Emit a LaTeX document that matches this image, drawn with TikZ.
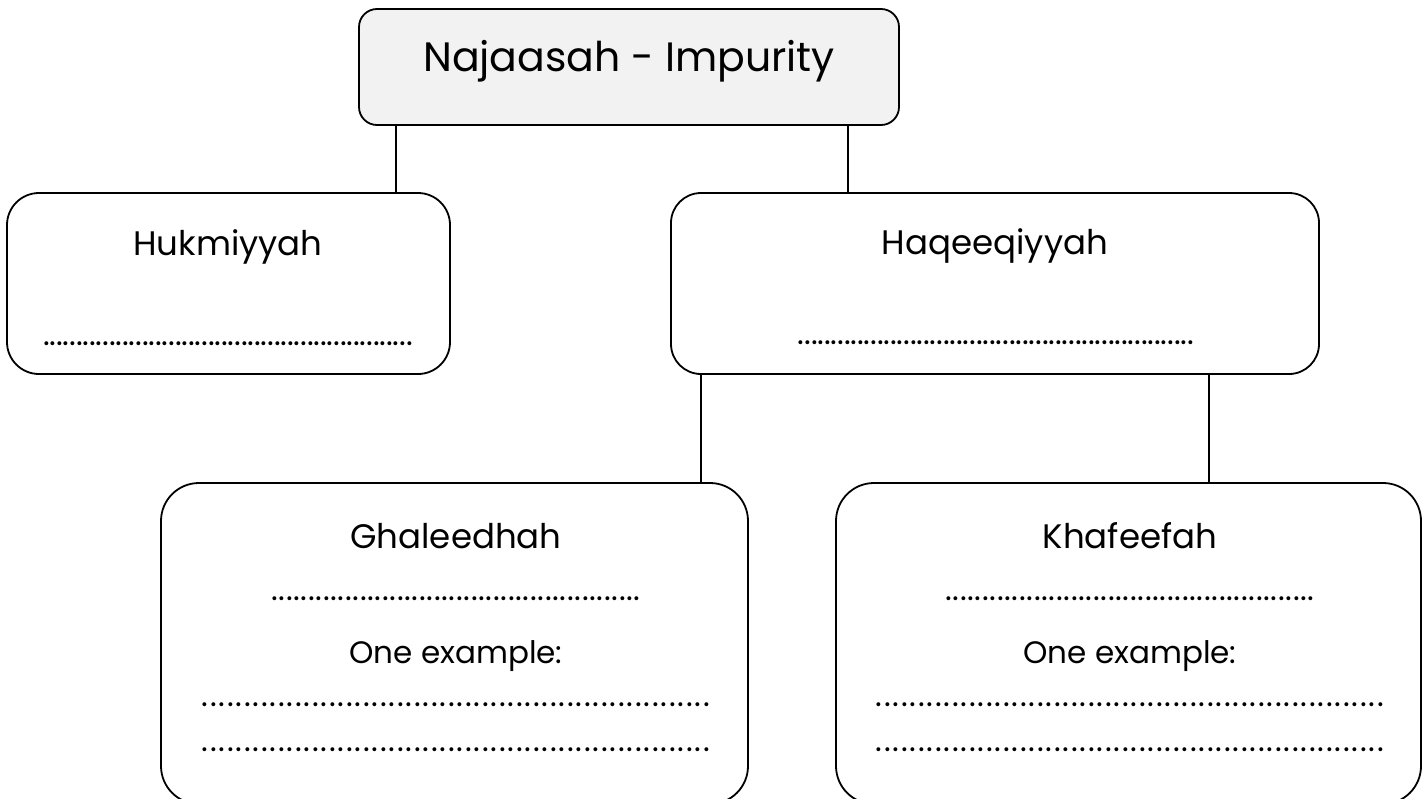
\documentclass[tikz,border=0pt]{standalone}
\usepackage{fontspec}
\setmainfont{Poppins}
\definecolor{topgray}{HTML}{F2F2F2}
\tikzset{
  box/.style={draw, line width=1.8pt, inner sep=0pt},
  lbl/.style={font=\fontsize{34}{40}\selectfont, anchor=base, inner sep=0pt},
  conn/.style={line width=1.8pt},
  dotlbl/.style={anchor=base, inner sep=0pt},
}
\newcommand{\dotrow}[2]{\makebox[#1]{\fontsize{32}{32}\selectfont\cleaders\hbox to #2{\hss.\hss}\hfill}}
\begin{document}
\begin{tikzpicture}[x=1pt,y=-1pt]
\clip (0,0) rectangle (1427,798);
\fill[white] (0,0) rectangle (1427,798);
% boxes
\node[box, rounded corners=18pt, fill=topgray, minimum width=540pt, minimum height=116pt] (top) at (629,67) {};
\node[box, rounded corners=32pt, minimum width=443pt, minimum height=181pt] (huk) at (228.5,283.5) {};
\node[box, rounded corners=30pt, minimum width=648pt, minimum height=181pt] (haq) at (995,283.5) {};
\node[box, rounded corners=38pt, minimum width=587pt, minimum height=321pt] (ghal) at (454.5,643.5) {};
\node[box, rounded corners=38pt, minimum width=585pt, minimum height=321pt] (khaf) at (1128.5,643.5) {};
% connectors
\draw[conn] ([xshift=38pt]top.south west) -- ([xshift=38pt]top.south west |- huk.north);
\draw[conn] ([xshift=-52pt]top.south east) -- ([xshift=-52pt]top.south east |- haq.north);
\draw[conn] ([xshift=31pt]haq.south west) -- ([xshift=31pt]haq.south west |- ghal.north);
\draw[conn] ([xshift=-111pt]haq.south east) -- ([xshift=-111pt]haq.south east |- khaf.north);
% texts
\node[lbl, font=\fontsize{41}{48}\selectfont] (tTop) at (629,71) {Najaasah - Impurity};
\node[lbl] (tHuk) at (228,255) {Hukmiyyah};
\node[dotlbl] (dHuk) at (228,345) {\dotrow{373pt}{6.6pt}};
\node[lbl] (tHaq) at (995,254) {Haqeeqiyyah};
\node[dotlbl] (dHaq) at (996,344) {\dotrow{400pt}{6.6pt}};
\node[lbl] (tGhal) at (456,548) {Ghaleedhah};
\node[dotlbl] (dGhal1) at (456,600) {\dotrow{375pt}{7.4pt}};
\node[lbl, font=\fontsize{31}{36}\selectfont] (eGhal) at (456,663) {One example:};
\node[dotlbl] (dGhal2) at (456,706) {\dotrow{518pt}{8.5pt}};
\node[dotlbl] (dGhal3) at (456,751) {\dotrow{518pt}{8.5pt}};
\node[lbl] (tKhaf) at (1130,548) {Khafeefah};
\node[dotlbl] (dKhaf1) at (1130,600) {\dotrow{375pt}{7.4pt}};
\node[lbl, font=\fontsize{31}{36}\selectfont] (eKhaf) at (1130,663) {One example:};
\node[dotlbl] (dKhaf2) at (1130,706) {\dotrow{518pt}{8.5pt}};
\node[dotlbl] (dKhaf3) at (1130,751) {\dotrow{518pt}{8.5pt}};
\end{tikzpicture}
\end{document}
